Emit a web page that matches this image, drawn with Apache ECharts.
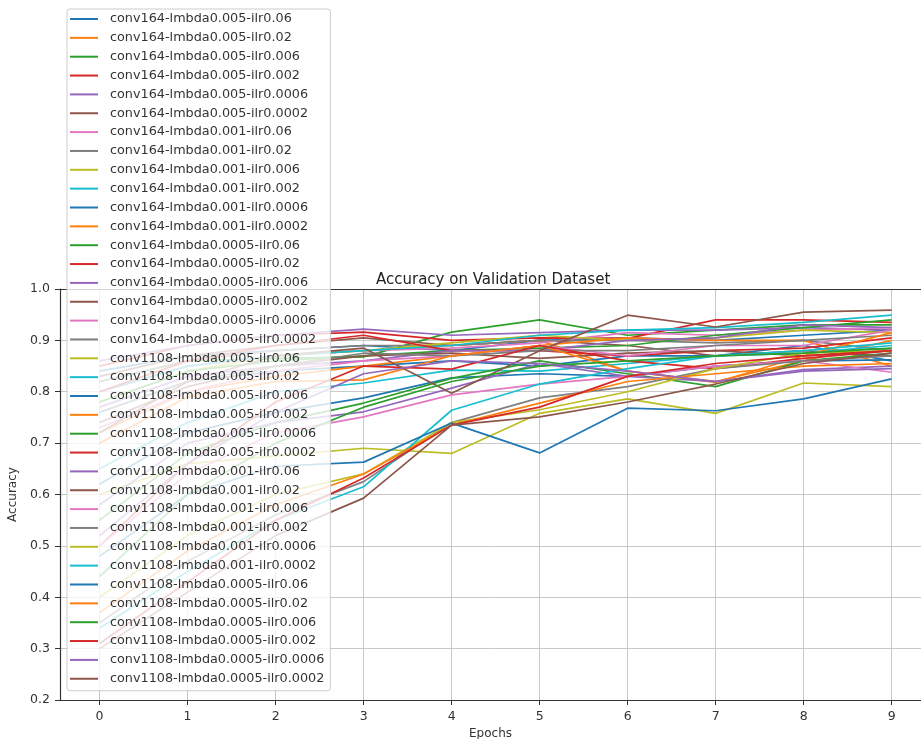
<!DOCTYPE html>
<html>
<head>
<meta charset="utf-8">
<title>Accuracy on Validation Dataset</title>
<script src="https://cdn.jsdelivr.net/npm/echarts@6/dist/echarts.min.js"></script>
<style>
  html, body { margin: 0; padding: 0; background: #fff; }
  #chart { width: 921px; height: 739px; }
</style>
</head>
<body>
<div id="chart"></div>
<script>
// x axis: epochs
const epochs = [0, 1, 2, 3, 4, 5, 6, 7, 8, 9];
const yTicks = [0.2, 0.3, 0.4, 0.5, 0.6, 0.7, 0.8, 0.9, 1.0];

// run names = conv x lmbda x ilr
const convs = ['conv164', 'conv1108'];
const lmbdas = ['0.005', '0.001', '0.0005'];
const ilrs = ['0.06', '0.02', '0.006', '0.002', '0.0006', '0.0002'];

// accuracy per epoch (same order as the names)
const conv164Acc = [
  [0.84, 0.87, 0.88, 0.89, 0.88, 0.90, 0.905, 0.90, 0.91, 0.92],
  [0.80, 0.85, 0.87, 0.88, 0.89, 0.90, 0.84, 0.82, 0.86, 0.90],
  [0.82, 0.86, 0.865, 0.868, 0.916, 0.940, 0.91, 0.92, 0.93, 0.93],
  [0.85, 0.89, 0.91, 0.916, 0.90, 0.905, 0.904, 0.94, 0.94, 0.935],
  [0.86, 0.89, 0.91, 0.922, 0.91, 0.915, 0.92, 0.92, 0.925, 0.92],
  [0.83, 0.87, 0.89, 0.905, 0.89, 0.90, 0.89, 0.87, 0.88, 0.87],
  [0.80, 0.85, 0.87, 0.88, 0.885, 0.895, 0.915, 0.91, 0.92, 0.925],
  [0.82, 0.86, 0.88, 0.89, 0.89, 0.90, 0.90, 0.895, 0.90, 0.88],
  [0.78, 0.84, 0.87, 0.88, 0.895, 0.91, 0.90, 0.905, 0.92, 0.915],
  [0.80, 0.85, 0.87, 0.88, 0.89, 0.91, 0.92, 0.925, 0.935, 0.949],
  [0.76, 0.82, 0.84, 0.85, 0.86, 0.85, 0.87, 0.87, 0.89, 0.86],
  [0.72, 0.80, 0.83, 0.85, 0.87, 0.89, 0.905, 0.90, 0.90, 0.85],
  [0.78, 0.84, 0.86, 0.87, 0.88, 0.885, 0.89, 0.91, 0.925, 0.94],
  [0.80, 0.86, 0.89, 0.91, 0.88, 0.88, 0.87, 0.88, 0.885, 0.905],
  [0.77, 0.83, 0.85, 0.86, 0.88, 0.88, 0.90, 0.905, 0.93, 0.925],
  [0.74, 0.81, 0.85, 0.87, 0.875, 0.865, 0.875, 0.88, 0.87, 0.88],
  [0.73, 0.80, 0.84, 0.86, 0.87, 0.89, 0.87, 0.89, 0.89, 0.92],
  [0.76, 0.82, 0.85, 0.875, 0.87, 0.88, 0.88, 0.89, 0.90, 0.91]
];
const conv1108Acc = [
  [0.60, 0.66, 0.675, 0.69, 0.68, 0.758, 0.786, 0.758, 0.817, 0.81],
  [0.65, 0.74, 0.80, 0.817, 0.842, 0.84, 0.855, 0.87, 0.875, 0.89],
  [0.62, 0.72, 0.76, 0.788, 0.827, 0.835, 0.83, 0.85, 0.86, 0.862],
  [0.70, 0.79, 0.82, 0.823, 0.87, 0.89, 0.84, 0.818, 0.87, 0.915],
  [0.55, 0.68, 0.74, 0.778, 0.826, 0.86, 0.835, 0.81, 0.86, 0.875],
  [0.50, 0.66, 0.78, 0.85, 0.844, 0.89, 0.86, 0.845, 0.865, 0.88],
  [0.58, 0.70, 0.74, 0.761, 0.807, 0.855, 0.83, 0.82, 0.843, 0.85],
  [0.72, 0.82, 0.87, 0.885, 0.797, 0.88, 0.949, 0.926, 0.955, 0.959],
  [0.50, 0.64, 0.72, 0.751, 0.794, 0.815, 0.83, 0.85, 0.86, 0.838],
  [0.35, 0.47, 0.56, 0.625, 0.74, 0.788, 0.81, 0.845, 0.86, 0.87],
  [0.40, 0.52, 0.60, 0.64, 0.74, 0.765, 0.80, 0.845, 0.875, 0.88],
  [0.34, 0.45, 0.55, 0.615, 0.764, 0.815, 0.845, 0.87, 0.88, 0.895],
  [0.48, 0.60, 0.655, 0.663, 0.739, 0.681, 0.768, 0.763, 0.786, 0.825],
  [0.37, 0.49, 0.58, 0.64, 0.735, 0.778, 0.82, 0.835, 0.85, 0.855],
  [0.44, 0.60, 0.70, 0.77, 0.82, 0.85, 0.86, 0.87, 0.875, 0.885],
  [0.31, 0.43, 0.55, 0.632, 0.735, 0.77, 0.83, 0.855, 0.87, 0.88],
  [0.52, 0.66, 0.76, 0.835, 0.86, 0.855, 0.84, 0.82, 0.84, 0.845],
  [0.30, 0.41, 0.52, 0.593, 0.735, 0.751, 0.78, 0.815, 0.855, 0.875]
];

// matplotlib tab10
const tab10 = ['#1f77b4', '#ff7f0e', '#2ca02c', '#d62728', '#9467bd',
               '#8c564b', '#e377c2', '#7f7f7f', '#bcbd22', '#17becf'];

var names = [];
convs.forEach(function (c) {
  lmbdas.forEach(function (l) {
    ilrs.forEach(function (r) {
      names.push(c + '-lmbda' + l + '-ilr' + r);
    });
  });
});
var allAcc = conv164Acc.concat(conv1108Acc);

var series = names.map(function (name, i) {
  return {
    name: name,
    type: 'line',
    xAxisIndex: 0,
    symbol: 'none',
    lineStyle: { width: 1.7, color: tab10[i % 10] },
    itemStyle: { color: tab10[i % 10] },
    data: epochs.map(function (e, k) { return [e, allAcc[i][k]]; })
  };
});

var chart = echarts.init(document.getElementById('chart'));
var font = 'DejaVu Sans';
var option = {
  animation: false,
  textStyle: { fontFamily: font },
  title: {
    text: 'Accuracy on Validation Dataset',
    left: 371,
    top: 268,
    textStyle: { fontFamily: font, fontSize: 15, fontWeight: 'normal', color: '#222' }
  },
  legend: {
    orient: 'vertical',
    left: 67,
    top: 9,
    padding: [3, 6, 5, 3],
    itemWidth: 28,
    itemHeight: 2,
    itemGap: 4.85,
    icon: 'rect',
    backgroundColor: 'rgba(255,255,255,0.8)',
    borderColor: '#cccccc',
    borderWidth: 1,
    borderRadius: 3,
    z: 10,
    textStyle: {
      fontFamily: font,
      fontSize: 12.8,
      lineHeight: 14,
      color: '#333',
      padding: [0, 0, 0, 7]
    },
    data: names
  },
  grid: {
    left: 60,
    right: 0,
    top: 289,
    bottom: 39,
    outerBoundsMode: 'none',
    containLabel: false
  },
  xAxis: [{
    type: 'value',
    min: -0.45,
    max: 9.334,
    name: 'Epochs',
    nameLocation: 'middle',
    nameGap: 27,
    nameTextStyle: { fontFamily: font, fontSize: 12, color: '#333' },
    axisLine: { show: true, onZero: false, lineStyle: { color: '#333', width: 1.2 } },
    axisTick: { show: true, length: 5, customValues: epochs, lineStyle: { color: '#333' } },
    axisLabel: { customValues: epochs, fontFamily: font, fontSize: 12.5, color: '#333', margin: 10 },
    splitLine: { show: true, lineStyle: { color: '#c8c8c8', width: 1 } }
  }, {
    // top spine only
    type: 'value',
    position: 'top',
    min: -0.45,
    max: 9.334,
    axisLine: { show: true, onZero: false, lineStyle: { color: '#333', width: 1.2 } },
    axisTick: { show: false },
    axisLabel: { show: false },
    splitLine: { show: false }
  }],
  yAxis: {
    type: 'value',
    min: yTicks[0],
    max: yTicks[yTicks.length - 1],
    interval: 0.1,
    name: 'Accuracy',
    nameLocation: 'middle',
    nameGap: 30,
    nameRotate: 90,
    nameTextStyle: { fontFamily: font, fontSize: 12, color: '#333' },
    axisLine: { show: true, onZero: false, lineStyle: { color: '#333', width: 1.2 } },
    axisTick: { show: true, length: 5, lineStyle: { color: '#333' } },
    axisLabel: {
      fontFamily: font, fontSize: 12.5, color: '#333', margin: 10,
      formatter: function (v) { return v.toFixed(1); }
    },
    splitLine: { show: true, lineStyle: { color: '#c8c8c8', width: 1 } }
  },
  series: series
};
chart.setOption(option);
</script>
</body>
</html>
